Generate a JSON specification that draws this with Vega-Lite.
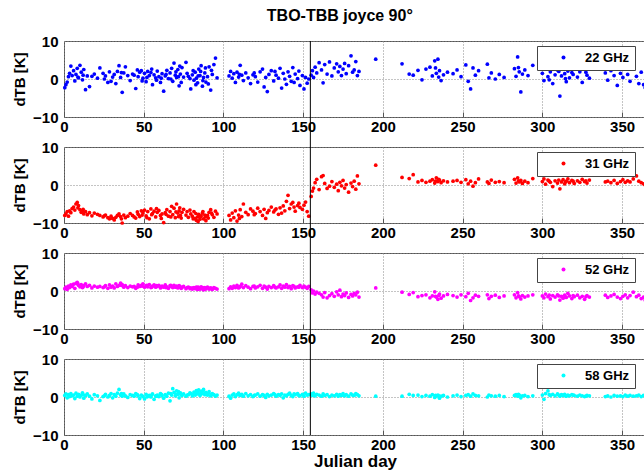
{
  "$schema": "https://vega.github.io/schema/vega-lite/v6.json",
  "padding": {"left": 12, "top": 7, "right": 0, "bottom": 0},
  "background": "white",
  "title": {"text": "TBO-TBB joyce 90°", "font": "Liberation Sans", "fontSize": 16, "fontWeight": "bold", "color": "black", "anchor": "middle", "offset": 10, "dx": 10},
  "datasets": {
    "obs": [
      {"d":0.5,"a":-2.3,"b":-8.0,"c":0.6,"e":0.4},{"d":1.2,"a":-1.5,"b":-7.6,"c":1.0,"e":0.8},{"d":2.0,"a":-0.8,"b":-7.0,"c":0.4,"e":-0.2},{"d":2.8,"a":0.6,"b":-8.2,"c":1.3,"e":0.6},{"d":3.5,"a":1.5,"b":-6.8,"c":0.9,"e":0.1},{"d":4.3,"a":3.4,"b":-7.3,"c":1.6,"e":0.9},{"d":5.1,"a":0.9,"b":-6.2,"c":1.2,"e":0.3},{"d":6.0,"a":2.2,"b":-5.8,"c":1.8,"e":0.5},{"d":6.8,"a":-0.5,"b":-6.6,"c":0.7,"e":-0.4},{"d":7.5,"a":1.2,"b":-5.0,"c":2.0,"e":1.0},{"d":8.3,"a":2.8,"b":-4.6,"c":2.3,"e":0.2},{"d":9.1,"a":0.3,"b":-5.4,"c":1.5,"e":0.7},{"d":10.0,"a":3.6,"b":-6.5,"c":1.1,"e":0.0},{"d":10.8,"a":1.8,"b":-7.2,"c":1.7,"e":0.5},{"d":11.6,"a":-0.2,"b":-6.9,"c":0.9,"e":1.1},{"d":12.4,"a":2.5,"b":-7.6,"c":1.4,"e":-0.3},{"d":13.5,"a":-2.8,"b":-7.0,"c":1.9,"e":0.4},{"d":14.6,"a":0.8,"b":-7.8,"c":1.2,"e":0.8},{"d":16.0,"a":-2.0,"b":-7.3,"c":1.5,"e":0.2},{"d":17.5,"a":0.7,"b":-8.1,"c":0.8,"e":-0.5},{"d":19.0,"a":1.3,"b":-7.4,"c":1.3,"e":0.6},{"d":21.0,"a":0.2,"b":-7.7,"c":1.0,"e":0.3},{"d":22.5,"a":2.9,"b":-8.0,"c":1.2,"e":-0.9},{"d":24.5,"a":1.5,"b":-8.4,"c":0.9,"e":0.1},{"d":26.0,"a":0.8,"b":-7.9,"c":1.4,"e":0.7},{"d":27.5,"a":-0.9,"b":-8.6,"c":0.7,"e":0.0},{"d":28.5,"a":1.9,"b":-8.9,"c":1.6,"e":0.4},{"d":29.5,"a":-0.6,"b":-8.2,"c":1.0,"e":0.9},{"d":30.5,"a":0.5,"b":-8.8,"c":1.3,"e":-0.2},{"d":31.5,"a":1.2,"b":-9.2,"c":0.8,"e":0.6},{"d":32.5,"a":-1.2,"b":-8.5,"c":1.9,"e":0.2},{"d":33.5,"a":2.0,"b":-8.0,"c":1.2,"e":1.0},{"d":34.5,"a":3.5,"b":-7.6,"c":1.5,"e":2.0},{"d":35.5,"a":0.4,"b":-8.3,"c":2.1,"e":0.5},{"d":36.5,"a":-3.5,"b":-10.0,"c":1.7,"e":0.2},{"d":37.5,"a":1.6,"b":-7.9,"c":1.0,"e":0.8},{"d":38.5,"a":3.2,"b":-8.6,"c":1.4,"e":0.3},{"d":40.0,"a":0.9,"b":-8.2,"c":0.9,"e":-0.1},{"d":41.5,"a":-0.4,"b":-7.5,"c":1.3,"e":0.6},{"d":43.0,"a":1.3,"b":-8.0,"c":1.1,"e":0.4},{"d":45.0,"a":-2.5,"b":-8.7,"c":0.7,"e":0.9},{"d":46.5,"a":0.6,"b":-7.7,"c":1.6,"e":0.3},{"d":47.5,"a":1.8,"b":-8.3,"c":1.2,"e":-0.4},{"d":48.5,"a":2.2,"b":-6.8,"c":1.5,"e":0.5},{"d":49.5,"a":0.2,"b":-7.3,"c":1.9,"e":0.1},{"d":50.5,"a":1.5,"b":-6.6,"c":1.0,"e":-0.5},{"d":51.5,"a":-0.7,"b":-8.1,"c":1.4,"e":0.7},{"d":52.5,"a":2.0,"b":-7.0,"c":1.1,"e":0.2},{"d":53.5,"a":0.9,"b":-8.9,"c":1.7,"e":0.4},{"d":54.5,"a":1.7,"b":-6.3,"c":0.9,"e":0.0},{"d":55.5,"a":-1.5,"b":-7.5,"c":1.3,"e":0.8},{"d":56.5,"a":1.1,"b":-6.9,"c":1.6,"e":-0.6},{"d":57.5,"a":0.3,"b":-8.4,"c":1.0,"e":0.3},{"d":58.5,"a":2.1,"b":-7.2,"c":1.2,"e":0.5},{"d":59.5,"a":0.6,"b":-6.7,"c":1.5,"e":0.1},{"d":60.5,"a":-0.9,"b":-8.0,"c":0.8,"e":0.9},{"d":61.5,"a":1.4,"b":-7.6,"c":1.3,"e":0.4},{"d":62.5,"a":-3.2,"b":-9.9,"c":1.0,"e":-0.3},{"d":63.5,"a":0.8,"b":-7.3,"c":1.6,"e":0.6},{"d":64.5,"a":2.3,"b":-6.5,"c":1.1,"e":0.2},{"d":65.5,"a":0.1,"b":-8.2,"c":0.7,"e":1.0},{"d":66.5,"a":1.6,"b":-7.0,"c":1.4,"e":-1.0},{"d":67.5,"a":2.8,"b":-5.6,"c":1.2,"e":0.5},{"d":68.2,"a":-0.6,"b":-7.8,"c":0.9,"e":2.2},{"d":69.0,"a":4.2,"b":-6.1,"c":1.5,"e":1.2},{"d":69.8,"a":1.0,"b":-8.6,"c":1.0,"e":0.3},{"d":70.6,"a":0.4,"b":-5.0,"c":1.3,"e":1.6},{"d":71.4,"a":2.5,"b":-7.4,"c":0.8,"e":0.7},{"d":72.2,"a":-1.8,"b":-6.8,"c":1.4,"e":-0.2},{"d":73.0,"a":1.3,"b":-8.0,"c":1.1,"e":1.1},{"d":74.0,"a":3.0,"b":-7.2,"c":0.9,"e":0.4},{"d":75.0,"a":0.5,"b":-6.4,"c":1.2,"e":0.8},{"d":76.5,"a":4.4,"b":-7.9,"c":0.6,"e":0.2},{"d":78.0,"a":0.7,"b":-8.5,"c":1.0,"e":0.6},{"d":79.5,"a":-2.6,"b":-7.6,"c":0.8,"e":0.9},{"d":80.5,"a":1.1,"b":-8.2,"c":0.5,"e":0.3},{"d":81.5,"a":-0.3,"b":-7.0,"c":0.9,"e":1.3},{"d":82.3,"a":1.8,"b":-8.8,"c":0.6,"e":0.5},{"d":83.0,"a":0.2,"b":-9.3,"c":1.0,"e":1.7},{"d":83.8,"a":-1.0,"b":-8.4,"c":0.4,"e":0.8},{"d":84.5,"a":2.6,"b":-7.7,"c":0.8,"e":1.9},{"d":85.3,"a":0.9,"b":-9.0,"c":0.5,"e":0.4},{"d":86.0,"a":3.5,"b":-8.1,"c":1.1,"e":1.5},{"d":86.8,"a":-1.9,"b":-7.4,"c":0.7,"e":0.9},{"d":87.5,"a":0.4,"b":-8.9,"c":0.3,"e":2.0},{"d":88.3,"a":1.6,"b":-7.9,"c":0.9,"e":0.6},{"d":89.0,"a":-0.8,"b":-9.4,"c":0.6,"e":1.2},{"d":90.0,"a":0.6,"b":-8.0,"c":1.0,"e":0.5},{"d":91.0,"a":3.2,"b":-7.2,"c":0.5,"e":1.4},{"d":92.0,"a":-2.9,"b":-6.5,"c":0.8,"e":0.3},{"d":93.0,"a":1.2,"b":-7.8,"c":0.4,"e":0.9},{"d":94.0,"a":3.8,"b":-8.5,"c":0.9,"e":0.6},{"d":95.0,"a":5.5,"b":-6.9,"c":0.7,"e":0.2},{"d":96.0,"a":0.3,"b":-7.6,"c":0.5,"e":0.5},
      {"d":103.5,"a":0.8,"b":-8.0,"c":0.6,"e":0.2},{"d":104.5,"a":2.0,"b":-9.2,"c":1.1,"e":-0.3},{"d":105.5,"a":0.2,"b":-7.4,"c":0.7,"e":0.5},{"d":106.5,"a":1.4,"b":-8.6,"c":1.3,"e":0.8},{"d":107.5,"a":-0.9,"b":-6.8,"c":0.9,"e":0.1},{"d":108.5,"a":1.8,"b":-9.5,"c":1.5,"e":0.6},{"d":109.5,"a":0.5,"b":-7.9,"c":0.8,"e":1.0},{"d":110.5,"a":3.6,"b":-6.5,"c":1.2,"e":0.4},{"d":111.5,"a":1.0,"b":-8.3,"c":1.8,"e":0.7},{"d":112.5,"a":-0.4,"b":-5.0,"c":0.9,"e":0.2},{"d":114.0,"a":1.6,"b":-7.2,"c":1.4,"e":0.9},{"d":115.5,"a":0.3,"b":-7.8,"c":1.0,"e":0.3},{"d":117.0,"a":-1.2,"b":-6.3,"c":0.6,"e":0.6},{"d":118.5,"a":1.1,"b":-6.9,"c":1.2,"e":0.1},{"d":120.0,"a":0.6,"b":-7.5,"c":0.8,"e":0.5},{"d":121.5,"a":-0.8,"b":-6.1,"c":1.1,"e":0.8},{"d":123.0,"a":1.9,"b":-7.0,"c":1.5,"e":0.2},{"d":124.5,"a":2.6,"b":-8.0,"c":0.7,"e":0.6},{"d":125.5,"a":-2.1,"b":-6.4,"c":1.3,"e":0.4},{"d":126.5,"a":0.4,"b":-8.8,"c":1.0,"e":-0.1},{"d":127.5,"a":-3.3,"b":-7.3,"c":0.5,"e":0.7},{"d":128.5,"a":1.2,"b":-6.7,"c":1.2,"e":0.3},{"d":130.0,"a":2.2,"b":-5.8,"c":0.9,"e":0.5},{"d":131.5,"a":-0.5,"b":-7.1,"c":1.4,"e":0.9},{"d":133.0,"a":1.0,"b":-6.3,"c":0.8,"e":0.2},{"d":134.5,"a":0.2,"b":-7.7,"c":1.1,"e":0.6},{"d":135.5,"a":2.8,"b":-6.0,"c":1.6,"e":0.4},{"d":136.5,"a":-2.4,"b":-7.4,"c":0.7,"e":0.8},{"d":137.5,"a":1.5,"b":-5.5,"c":1.3,"e":-0.2},{"d":138.5,"a":0.0,"b":-6.8,"c":1.0,"e":0.5},{"d":139.5,"a":-1.4,"b":-4.3,"c":1.7,"e":0.3},{"d":140.5,"a":1.9,"b":-2.7,"c":0.9,"e":0.7},{"d":141.5,"a":0.7,"b":-6.2,"c":1.2,"e":1.0},{"d":142.5,"a":-0.6,"b":-5.0,"c":0.6,"e":0.4},{"d":143.5,"a":3.0,"b":-4.6,"c":1.4,"e":0.1},{"d":145.0,"a":1.3,"b":-6.9,"c":0.8,"e":0.6},{"d":146.5,"a":0.1,"b":-5.4,"c":1.1,"e":0.9},{"d":148.0,"a":-1.7,"b":-5.9,"c":1.5,"e":0.3},{"d":149.5,"a":0.9,"b":-6.4,"c":0.9,"e":0.7},{"d":150.5,"a":-2.6,"b":-5.3,"c":1.3,"e":0.2},{"d":151.5,"a":0.4,"b":-4.5,"c":1.0,"e":1.0},{"d":152.5,"a":-1.1,"b":-7.0,"c":0.7,"e":0.5},{"d":153.5,"a":0.0,"b":-8.2,"c":1.2,"e":0.6},
      {"d":155.0,"a":1.0,"b":-3.0,"c":0.3,"e":0.8},{"d":155.8,"a":2.2,"b":-1.6,"c":-0.5,"e":0.4},{"d":156.5,"a":0.4,"b":-0.8,"c":0.0,"e":1.0},{"d":157.5,"a":3.1,"b":0.6,"c":-0.8,"e":0.3},{"d":158.5,"a":1.6,"b":1.5,"c":-0.3,"e":0.7},{"d":160.0,"a":4.3,"b":-1.2,"c":-0.6,"e":0.5},{"d":161.5,"a":2.4,"b":2.2,"c":-1.0,"e":0.2},{"d":162.5,"a":-1.0,"b":2.5,"c":-1.6,"e":0.8},{"d":163.5,"a":3.8,"b":0.4,"c":-0.4,"e":0.4},{"d":165.0,"a":1.3,"b":-0.9,"c":-1.8,"e":0.6},{"d":166.5,"a":4.5,"b":-0.3,"c":-1.2,"e":0.1},{"d":168.0,"a":0.8,"b":0.9,"c":-0.7,"e":0.5},{"d":169.5,"a":2.9,"b":-0.6,"c":-1.4,"e":0.3},{"d":171.0,"a":4.0,"b":0.2,"c":-0.2,"e":0.7},{"d":172.0,"a":1.9,"b":-1.5,"c":-1.0,"e":0.2},{"d":173.0,"a":3.3,"b":0.7,"c":0.2,"e":0.6},{"d":174.0,"a":0.9,"b":-0.2,"c":-1.5,"e":0.4},{"d":175.0,"a":2.6,"b":1.2,"c":-0.8,"e":0.9},{"d":176.0,"a":4.1,"b":-0.8,"c":-1.2,"e":0.3},{"d":177.0,"a":1.4,"b":0.1,"c":-0.5,"e":0.6},{"d":178.5,"a":3.5,"b":-1.9,"c":-1.7,"e":0.2},{"d":180.0,"a":6.1,"b":0.5,"c":-0.9,"e":0.8},{"d":181.0,"a":1.8,"b":-0.4,"c":-1.3,"e":0.5},{"d":182.0,"a":2.4,"b":1.0,"c":-0.6,"e":0.4},{"d":183.0,"a":4.6,"b":-1.1,"c":-1.0,"e":0.9},{"d":184.0,"a":0.9,"b":2.4,"c":-0.3,"e":0.6},{"d":185.0,"a":2.0,"b":0.3,"c":-1.6,"e":0.3},{"d":195.5,"a":5.2,"b":5.2,"c":0.8,"e":0.2},
      {"d":212.0,"a":4.0,"b":2.0,"c":-0.3,"e":0.2},{"d":216.5,"a":1.3,"b":1.7,"c":-0.9,"e":0.7},{"d":219.0,"a":1.0,"b":2.7,"c":-0.4,"e":0.4},{"d":222.0,"a":2.3,"b":0.8,"c":-1.5,"e":0.5},{"d":224.5,"a":-0.2,"b":1.2,"c":-1.2,"e":0.1},{"d":227.0,"a":2.6,"b":0.7,"c":-1.0,"e":0.4},{"d":229.5,"a":3.1,"b":1.0,"c":-1.8,"e":0.2},{"d":231.0,"a":0.8,"b":1.4,"c":-1.3,"e":0.6},{"d":232.5,"a":4.8,"b":0.5,"c":-0.2,"e":-0.1},{"d":233.5,"a":1.5,"b":1.9,"c":-1.6,"e":0.3},{"d":234.5,"a":5.2,"b":0.9,"c":-2.2,"e":0.5},{"d":235.5,"a":2.2,"b":1.3,"c":-0.8,"e":-0.3},{"d":236.5,"a":-0.4,"b":0.6,"c":-1.9,"e":0.2},{"d":238.0,"a":1.1,"b":1.1,"c":-1.3,"e":0.4},{"d":240.5,"a":1.8,"b":0.8,"c":-0.9,"e":0.0},{"d":244.0,"a":1.4,"b":1.0,"c":-1.2,"e":0.3},{"d":246.5,"a":2.4,"b":1.2,"c":-1.6,"e":0.5},{"d":249.0,"a":0.6,"b":0.7,"c":-1.0,"e":0.1},{"d":252.0,"a":3.7,"b":1.4,"c":-1.5,"e":0.4},{"d":253.5,"a":-0.6,"b":0.3,"c":-0.6,"e":0.6},{"d":255.0,"a":-2.6,"b":1.0,"c":-2.5,"e":0.2},{"d":256.5,"a":2.9,"b":-0.3,"c":-1.8,"e":0.8},{"d":258.0,"a":1.0,"b":0.6,"c":-1.1,"e":0.4},{"d":260.0,"a":2.2,"b":1.6,"c":-1.4,"e":0.3},{"d":265.5,"a":3.9,"b":0.8,"c":-1.0,"e":0.0},{"d":266.5,"a":0.3,"b":0.4,"c":-2.0,"e":0.5},{"d":268.0,"a":1.6,"b":1.3,"c":-1.4,"e":0.3},{"d":270.5,"a":0.0,"b":0.7,"c":-1.1,"e":0.2},{"d":273.0,"a":1.2,"b":0.9,"c":-1.7,"e":0.4},{"d":276.0,"a":0.4,"b":0.6,"c":-1.3,"e":0.1},{"d":282.5,"a":2.7,"b":1.5,"c":-1.0,"e":0.4},{"d":283.5,"a":0.7,"b":0.5,"c":-1.8,"e":0.6},{"d":284.5,"a":5.8,"b":1.9,"c":-0.4,"e":0.2},{"d":285.5,"a":1.9,"b":0.8,"c":-1.5,"e":0.5},{"d":286.5,"a":-3.4,"b":1.2,"c":-2.1,"e":-0.2},{"d":287.5,"a":1.3,"b":0.4,"c":-1.2,"e":0.3},{"d":289.0,"a":2.4,"b":1.0,"c":-1.6,"e":0.4},{"d":291.0,"a":0.9,"b":0.6,"c":-1.3,"e":0.1},{"d":294.0,"a":3.6,"b":1.7,"c":-1.0,"e":0.3},{"d":300.0,"a":1.5,"b":0.9,"c":-1.3,"e":0.5},{"d":301.0,"a":-0.4,"b":1.6,"c":-1.8,"e":-0.6},{"d":302.0,"a":2.8,"b":0.2,"c":-0.8,"e":0.9},{"d":303.5,"a":0.6,"b":1.3,"c":-1.5,"e":1.6},{"d":305.0,"a":1.9,"b":0.7,"c":-2.1,"e":0.4},{"d":306.5,"a":-1.2,"b":-0.4,"c":-1.2,"e":0.7},{"d":308.0,"a":1.1,"b":1.1,"c":-1.6,"e":0.3},{"d":309.5,"a":2.4,"b":0.5,"c":-1.0,"e":0.8},{"d":311.0,"a":-4.5,"b":-1.0,"c":-2.4,"e":0.2},{"d":312.0,"a":0.8,"b":0.8,"c":-1.4,"e":0.6},{"d":313.0,"a":3.3,"b":1.4,"c":-1.9,"e":0.4},{"d":314.0,"a":1.4,"b":0.3,"c":-1.1,"e":0.7},{"d":315.0,"a":-0.7,"b":1.0,"c":-1.7,"e":0.2},{"d":316.0,"a":2.1,"b":1.6,"c":-0.6,"e":0.5},{"d":317.0,"a":0.3,"b":0.6,"c":-1.3,"e":0.3},{"d":318.5,"a":1.7,"b":1.2,"c":-2.0,"e":0.6},{"d":320.0,"a":3.1,"b":0.4,"c":-1.5,"e":0.4},{"d":322.0,"a":0.5,"b":1.1,"c":-1.1,"e":0.2},{"d":323.5,"a":1.9,"b":0.7,"c":-1.8,"e":0.5},{"d":325.0,"a":-0.9,"b":1.5,"c":-1.4,"e":0.3},{"d":326.5,"a":2.6,"b":0.9,"c":-2.2,"e":0.1},{"d":328.0,"a":1.0,"b":0.5,"c":-1.2,"e":0.4},{"d":329.5,"a":0.2,"b":1.3,"c":-1.6,"e":0.3},{"d":339.5,"a":1.6,"b":0.8,"c":-1.1,"e":0.1},{"d":341.0,"a":-0.3,"b":1.0,"c":-1.7,"e":0.3},{"d":343.0,"a":2.2,"b":0.6,"c":-1.3,"e":0.0},{"d":345.0,"a":0.9,"b":1.2,"c":-0.9,"e":0.4},{"d":347.0,"a":-1.7,"b":0.4,"c":-1.6,"e":0.2},{"d":349.0,"a":1.5,"b":0.9,"c":-2.0,"e":0.3},{"d":350.5,"a":0.4,"b":1.4,"c":-1.4,"e":0.1},{"d":352.0,"a":3.4,"b":0.7,"c":-1.0,"e":0.5},{"d":353.5,"a":1.2,"b":1.1,"c":-1.8,"e":0.2},{"d":355.0,"a":-0.6,"b":0.8,"c":-1.2,"e":0.4},{"d":357.0,"a":2.8,"b":1.6,"c":-0.3,"e":0.2},{"d":359.0,"a":0.7,"b":2.4,"c":-1.5,"e":0.3},{"d":360.5,"a":-1.2,"b":1.0,"c":-1.1,"e":0.5},{"d":362.0,"a":1.8,"b":0.6,"c":-2.0,"e":0.1},{"d":363.5,"a":-1.5,"b":0.3,"c":-1.6,"e":0.4},{"d":364.5,"a":-2.3,"b":0.0,"c":-2.4,"e":0.2},
      {"d":44.0,"a":1.0,"b":-8.4,"c":1.2,"e":0.2},{"d":46.0,"a":2.4,"b":-7.1,"c":1.0,"e":0.6},{"d":49.0,"a":-0.5,"b":-7.9,"c":1.3,"e":0.3},{"d":52.0,"a":0.4,"b":-8.6,"c":1.5,"e":0.0},{"d":55.0,"a":2.6,"b":-7.8,"c":1.0,"e":0.5},{"d":58.0,"a":-0.3,"b":-6.2,"c":1.4,"e":0.2},{"d":61.0,"a":0.2,"b":-8.8,"c":1.1,"e":0.7},{"d":64.0,"a":1.2,"b":-7.7,"c":0.9,"e":0.3},{"d":67.0,"a":0.0,"b":-8.4,"c":1.5,"e":0.9},{"d":70.2,"a":1.9,"b":-7.1,"c":1.1,"e":0.6},{"d":71.8,"a":0.6,"b":-8.3,"c":1.0,"e":1.4},{"d":72.6,"a":3.4,"b":-6.0,"c":1.2,"e":0.9},{"d":73.5,"a":-0.9,"b":-8.7,"c":0.7,"e":0.6},{"d":77.2,"a":1.5,"b":-7.0,"c":0.9,"e":0.5},{"d":79.0,"a":0.1,"b":-6.6,"c":0.6,"e":1.1},{"d":81.0,"a":2.2,"b":-8.9,"c":0.8,"e":0.7},{"d":82.7,"a":-1.5,"b":-7.5,"c":0.7,"e":1.0},{"d":84.1,"a":0.8,"b":-9.6,"c":1.0,"e":1.2},{"d":85.7,"a":2.0,"b":-8.3,"c":0.6,"e":0.8},{"d":87.1,"a":-0.4,"b":-7.0,"c":0.9,"e":1.6},{"d":88.7,"a":2.9,"b":-8.4,"c":0.5,"e":1.0},{"d":90.5,"a":-1.3,"b":-8.7,"c":0.8,"e":0.9},{"d":92.5,"a":2.3,"b":-7.4,"c":0.6,"e":0.6},{"d":12.0,"a":1.0,"b":-6.4,"c":1.1,"e":0.6},{"d":8.7,"a":0.5,"b":-6.0,"c":1.9,"e":0.4},{"d":25.3,"a":0.0,"b":-8.1,"c":1.1,"e":0.3},{"d":36.0,"a":1.7,"b":-8.9,"c":1.5,"e":0.9},{"d":110.0,"a":1.2,"b":-8.8,"c":1.0,"e":0.6},{"d":119.3,"a":1.6,"b":-7.8,"c":1.3,"e":0.4},{"d":132.3,"a":2.0,"b":-6.6,"c":1.0,"e":0.6},{"d":144.3,"a":-0.9,"b":-5.8,"c":1.2,"e":0.8},{"d":147.3,"a":2.1,"b":-4.8,"c":1.0,"e":0.4},{"d":310.3,"a":2.0,"b":1.3,"c":-1.3,"e":0.5},{"d":314.5,"a":0.1,"b":0.8,"c":-1.6,"e":0.3},{"d":319.3,"a":1.2,"b":1.0,"c":-1.2,"e":0.5},{"d":327.3,"a":1.8,"b":1.1,"c":-1.5,"e":0.2},{"d":304.3,"a":-0.2,"b":1.0,"c":-1.1,"e":0.6},{"d":233.0,"a":2.9,"b":1.0,"c":-1.4,"e":0.4},{"d":235.0,"a":0.5,"b":1.5,"c":-1.2,"e":0.3},{"d":285.0,"a":3.0,"b":1.1,"c":-1.3,"e":0.7}
    ]
  },
  "spacing": 30,
  "bounds": "flush",
  "resolve": {"scale": {"color": "independent"}, "legend": {"color": "independent"}},
  "vconcat": [
    {
      "width": 582, "height": 76,
      "layer": [
        {
          "data": {"name": "obs"},
          "mark": {"type": "point", "filled": true, "size": 14, "opacity": 1},
          "encoding": {
            "x": {"field": "d", "type": "quantitative", "scale": {"domain": [0, 365], "nice": false}, "axis": {"title": null, "values": [0,50,100,150,200,250,300,350]}},
            "y": {"field": "a", "type": "quantitative", "scale": {"domain": [-10, 10], "nice": false}, "axis": {"title": "dTB [K]", "values": [-10,0,10], "tickCount": 3}},
            "color": {"datum": "22 GHz", "scale": {"range": ["#0000ff"]}, "legend": {"title": null, "orient": "none", "legendX": 473, "legendY": 5}}
          }
        },
        {
          "data": {"values": [{}]},
          "mark": {"type": "rule", "color": "black", "strokeWidth": 1, "clip": false},
          "encoding": {"x": {"datum": 154.5}, "y": {"datum": 10}, "y2": {"datum": -17.9}}
        }
      ]
    },
    {
      "width": 582, "height": 76,
      "layer": [
        {
          "data": {"name": "obs"},
          "mark": {"type": "point", "filled": true, "size": 14, "opacity": 1},
          "encoding": {
            "x": {"field": "d", "type": "quantitative", "scale": {"domain": [0, 365], "nice": false}, "axis": {"title": null, "values": [0,50,100,150,200,250,300,350]}},
            "y": {"field": "b", "type": "quantitative", "scale": {"domain": [-10, 10], "nice": false}, "axis": {"title": "dTB [K]", "values": [-10,0,10], "tickCount": 3}},
            "color": {"datum": "31 GHz", "scale": {"range": ["#ff0000"]}, "legend": {"title": null, "orient": "none", "legendX": 473, "legendY": 5}}
          }
        },
        {
          "data": {"values": [{}]},
          "mark": {"type": "rule", "color": "black", "strokeWidth": 1, "clip": false},
          "encoding": {"x": {"datum": 154.5}, "y": {"datum": 10}, "y2": {"datum": -17.9}}
        }
      ]
    },
    {
      "width": 582, "height": 76,
      "layer": [
        {
          "data": {"name": "obs"},
          "mark": {"type": "point", "filled": true, "size": 14, "opacity": 1},
          "encoding": {
            "x": {"field": "d", "type": "quantitative", "scale": {"domain": [0, 365], "nice": false}, "axis": {"title": null, "values": [0,50,100,150,200,250,300,350]}},
            "y": {"field": "c", "type": "quantitative", "scale": {"domain": [-10, 10], "nice": false}, "axis": {"title": "dTB [K]", "values": [-10,0,10], "tickCount": 3}},
            "color": {"datum": "52 GHz", "scale": {"range": ["#ff00ff"]}, "legend": {"title": null, "orient": "none", "legendX": 473, "legendY": 5}}
          }
        },
        {
          "data": {"values": [{}]},
          "mark": {"type": "rule", "color": "black", "strokeWidth": 1, "clip": false},
          "encoding": {"x": {"datum": 154.5}, "y": {"datum": 10}, "y2": {"datum": -17.9}}
        }
      ]
    },
    {
      "width": 582, "height": 76,
      "layer": [
        {
          "data": {"name": "obs"},
          "mark": {"type": "point", "filled": true, "size": 14, "opacity": 1},
          "encoding": {
            "x": {"field": "d", "type": "quantitative", "scale": {"domain": [0, 365], "nice": false}, "axis": {"title": "Julian day", "values": [0,50,100,150,200,250,300,350]}},
            "y": {"field": "e", "type": "quantitative", "scale": {"domain": [-10, 10], "nice": false}, "axis": {"title": "dTB [K]", "values": [-10,0,10], "tickCount": 3}},
            "color": {"datum": "58 GHz", "scale": {"range": ["#00ffff"]}, "legend": {"title": null, "orient": "none", "legendX": 473, "legendY": 5}}
          }
        },
        {
          "data": {"values": [{}]},
          "mark": {"type": "rule", "color": "black", "strokeWidth": 1, "clip": false},
          "encoding": {"x": {"datum": 154.5}, "y": {"datum": 10}, "y2": {"datum": -10}}
        }
      ]
    }
  ],
  "config": {
    "font": "Liberation Sans",
    "view": {"stroke": "#555", "strokeWidth": 1},
    "axis": {
      "domain": false, "ticks": false,
      "labelFont": "Liberation Sans", "labelFontSize": 15, "labelFontWeight": "bold", "labelColor": "black", "labelFlush": false, "labelOverlap": false,
      "titleFont": "Liberation Sans", "titleFontWeight": "bold", "titleColor": "black",
      "grid": true, "gridColor": "#888", "gridDash": [1, 2], "gridOpacity": 1, "gridWidth": 1
    },
    "axisY": {"titlePadding": 5, "labelPadding": 6, "titleFontSize": 15},
    "axisX": {"titlePadding": 1, "labelPadding": 7, "titleFontSize": 17, "ticks": true, "tickSize": -5, "tickColor": "#555", "tickWidth": 1},
    "legend": {
      "fillColor": "white", "strokeColor": "#444", "padding": 5, "symbolOffset": 15, "labelOffset": 15,
      "labelFont": "Liberation Sans", "labelFontSize": 13, "labelFontWeight": "bold", "labelColor": "black",
      "symbolType": "circle", "symbolSize": 16, "symbolStrokeWidth": 0
    }
  }
}
